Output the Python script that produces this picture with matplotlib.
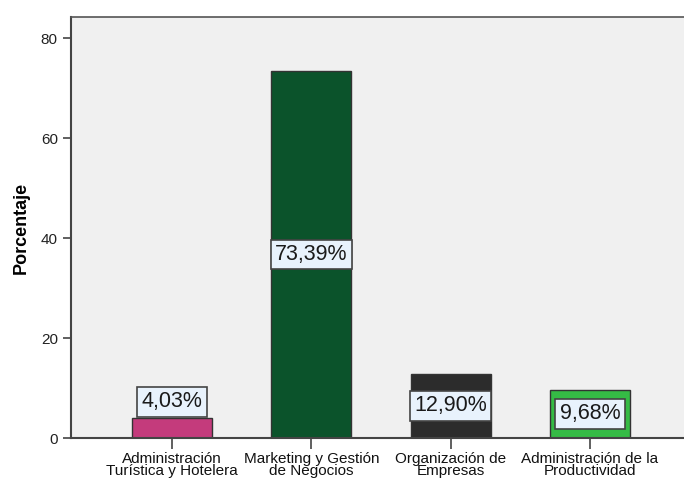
import matplotlib.pyplot as plt

plt.rcParams['font.family'] = ['Liberation Sans', 'DejaVu Sans']

categories = ["Administración\nTurística y Hotelera", "Marketing y Gestión\nde Negocios",
              "Organización de\nEmpresas", "Administración de la\nProductividad"]
values = [4.03, 73.39, 12.90, 9.68]
labels = ["4,03%", "73,39%", "12,90%", "9,68%"]
colors = ['#c43b7c', '#0b532b', '#2c2c2c', '#35bb45']

fig = plt.figure(figsize=(6.84, 4.8), dpi=100)
ax = fig.add_axes([71 / 684, 42 / 480, 613 / 684, 421 / 480])
ax.set_facecolor('#f0f0f0')

x = range(len(values))
ax.bar(x, values, width=0.575, color=colors, edgecolor='#333333', linewidth=1, zorder=2)

for i, (v, lab) in enumerate(zip(values, labels)):
    ypos = max(v / 2, 7.2) if v < 6 else v / 2
    ax.text(i, ypos, lab, ha='center', va='center', fontsize=15.5, color='#1a1a1a', zorder=3,
            bbox=dict(boxstyle='square,pad=0.2', facecolor='#e8f2fc', edgecolor='#444444', linewidth=1.2))

ax.set_xlim(-0.727, 3.676)
ax.set_ylim(0, 84.2)
ax.set_yticks([0, 20, 40, 60, 80])
ax.set_xticks(list(x))
ax.set_xticklabels(categories, fontsize=11, linespacing=0.85, color='#111111')
ax.tick_params(axis='y', labelsize=11, length=6, width=1.2, color='#444444', labelcolor='#222222')
ax.tick_params(axis='x', length=8, width=1.2, color='#444444', pad=2)

ax.set_ylabel("Porcentaje", fontsize=13, fontweight='bold', labelpad=8)

for side in ['left', 'bottom']:
    ax.spines[side].set_color('#444444')
    ax.spines[side].set_linewidth(1.5)
ax.spines['top'].set_color('#555555')
ax.spines['top'].set_linewidth(1.2)
ax.spines['right'].set_visible(False)

plt.savefig("out.png", dpi=100)
